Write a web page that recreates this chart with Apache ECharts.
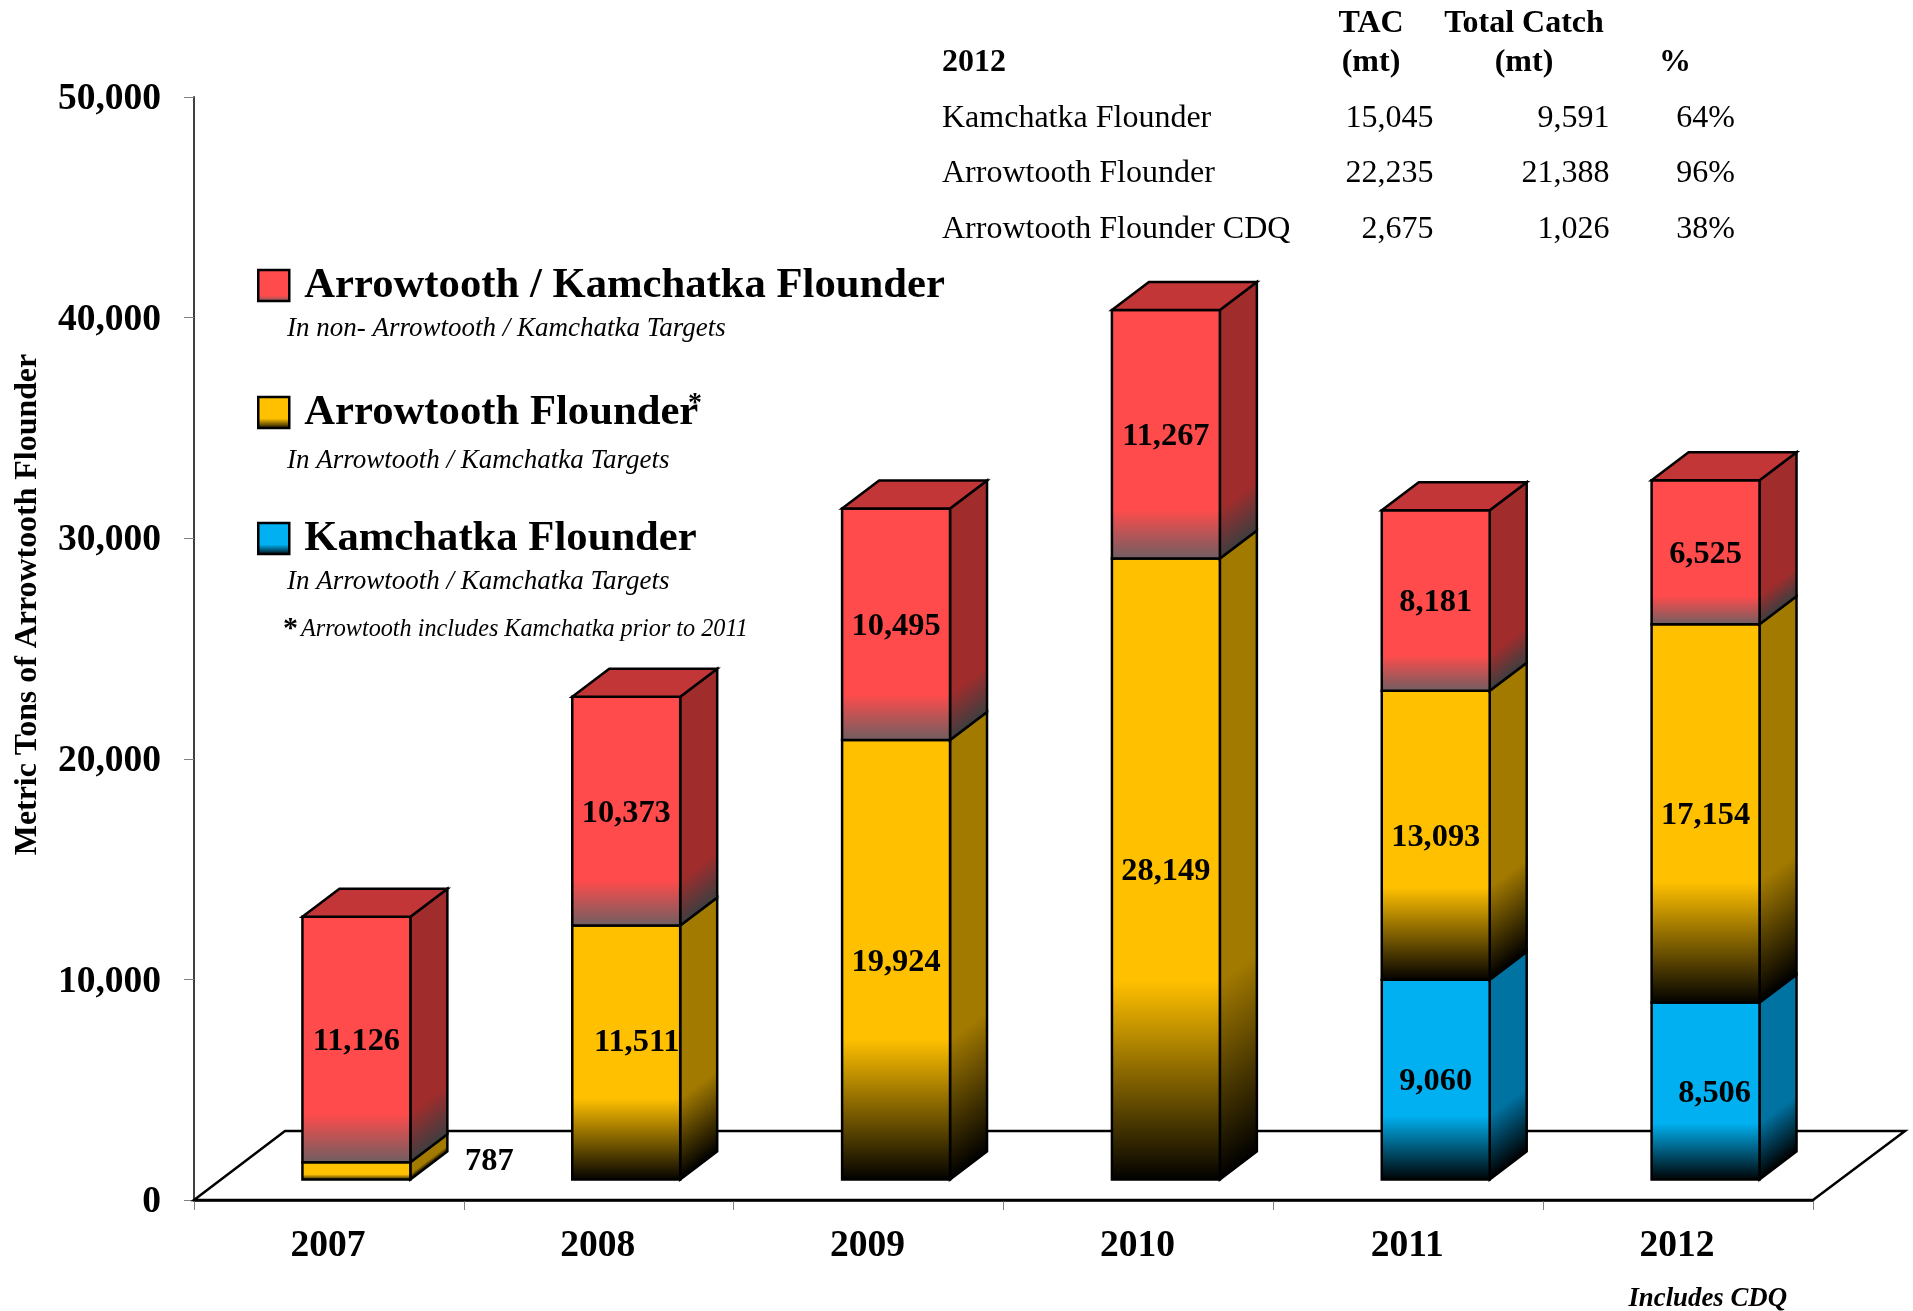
<!DOCTYPE html>
<html>
<head>
<meta charset="utf-8">
<style>html,body{margin:0;padding:0;background:#fff}#c{width:1913px;height:1311px}</style>
<script src="https://cdn.jsdelivr.net/npm/echarts@6/dist/echarts.min.js"></script>
</head>
<body>
<div id="c"></div>
<script>
const years = ['2007','2008','2009','2010','2011','2012'];
// Drawn heights. The 2012 Kamchatka bar is drawn shorter than its printed 8,506.
const kamchatka = [0,0,0,0,9060,8020];
const kamchatkaPrinted = [0,0,0,0,9060,8506];
const arrowtooth = [787,11511,19924,28149,13093,17154];
const nonTarget = [11126,10373,10495,11267,8181,6525];
const nameKam = 'Kamchatka Flounder';
const nameArrow = 'Arrowtooth Flounder';
const nameNon = 'Arrowtooth / Kamchatka Flounder';
const tableHead1 = ['TAC','Total Catch'];
const tableHead2 = ['2012','(mt)','(mt)','%'];
const tableNames = ['Kamchatka Flounder','Arrowtooth Flounder','Arrowtooth Flounder CDQ'];
const tableTac = ['15,045','22,235','2,675'];
const tableCatch = ['9,591','21,388','1,026'];
const tablePct = ['64%','96%','38%'];

const FONT = '"Liberation Serif","Times New Roman",serif';
const DX = 37, DY = 28, BASE_LIFT = 20.5;
const palette = {
  red:    {front:'#FF4B4B', frontEnd:'#6C5F62', stop:.80, side:'#A12C2C', sideEnd:'#3E3E40', top:'#C23638'},
  yellow: {front:'#FFC000', frontEnd:'#000000', stop:.68, side:'#A37A00', sideEnd:'#000000'},
  blue:   {front:'#00B0F0', frontEnd:'#000000', stop:.68, side:'#0073A3', sideEnd:'#000000'}
};
const labelNudge = {'1-1':[10.5,-12], '0-1':[133,-12], '5-0':[9,0]};

function vGrad(p){
  return {type:'linear',x:0,y:0,x2:0,y2:1,colorStops:[
    {offset:0,color:p.front},{offset:p.stop,color:p.front},{offset:1,color:p.frontEnd}]};
}
function barRender(pal, hasTop, sIdx){
  return function(params, api){
    const i = api.value(0), v = api.value(3);
    if(!v) return null;
    const band = api.size([1,0])[0];
    const c0 = api.coord([i, api.value(1)]), c1 = api.coord([i, api.value(2)]);
    const w = band*0.4, x0 = c0[0]+band*0.1-w/2+0.5, x1 = x0+w;
    const yb = c0[1]-BASE_LIFT, yt = c1[1]-BASE_LIFT;
    const stroke = {stroke:'#000',lineWidth:2.5,lineJoin:'miter'};
    const h = yb-yt, len = Math.hypot(DX,DY), L = h*DX/len;
    const sideFill = {type:'linear',global:true,x:x1,y:yt,x2:x1+DY/len*L,y2:yt+DX/len*L,colorStops:[
      {offset:0,color:pal.side},{offset:pal.stop,color:pal.side},{offset:1,color:pal.sideEnd}]};
    const kids = [
      {type:'polygon',shape:{points:[[x1,yt],[x1+DX,yt-DY],[x1+DX,yb-DY],[x1,yb]]},style:Object.assign({fill:sideFill},stroke)},
      {type:'polygon',shape:{points:[[x0,yt],[x1,yt],[x1,yb],[x0,yb]]},style:Object.assign({fill:vGrad(pal)},stroke)}
    ];
    if(hasTop) kids.push({type:'polygon',shape:{points:[[x0,yt],[x0+DX,yt-DY],[x1+DX,yt-DY],[x1,yt]]},style:Object.assign({fill:pal.top},stroke)});
    const n = labelNudge[i+'-'+sIdx] || [0,0];
    kids.push({type:'text',z2:100,style:{x:(x0+x1)/2+n[0],y:(yt+yb)/2+n[1]+2.5,text:api.value(4).toLocaleString('en-US'),
      font:'bold 32.4px '+FONT,fill:'#000',align:'center',verticalAlign:'middle'}});
    return {type:'group',children:kids};
  };
}
function stackRows(arr, below, printed){
  return arr.map((v,i)=>{const b=below.reduce((s,a)=>s+a[i],0);return [i,b,b+v,v,(printed||arr)[i]];});
}
function legendFor(name, top, pal){
  return {show:true,data:[{name,icon:'rect',itemStyle:{color:{type:'linear',x:0,y:0,x2:0,y2:1,colorStops:[
      {offset:0,color:pal.front},{offset:pal.stop,color:pal.front},{offset:1,color:pal.frontEnd}]},borderColor:'#000',borderWidth:2.5}}],
    left:257,top,padding:0,itemWidth:31,itemHeight:31,selectedMode:false,
    textStyle:{fontFamily:FONT,fontWeight:'bold',fontSize:42.7,color:'#000',padding:[2,0,0,10]}};
}
function t(x,y,text,font,align){
  return {type:'text',x,y:y+2.5,silent:true,style:{text,font:font+' '+FONT,fill:'#000',align:align||'left',verticalAlign:'middle'}};
}
const graphics = [
  t(287,326.5,'In non- Arrowtooth / Kamchatka Targets','italic 27px'),
  t(287,458.5,'In Arrowtooth / Kamchatka Targets','italic 27px'),
  t(287,579.5,'In Arrowtooth / Kamchatka Targets','italic 27px'),
  t(283,627,'*','bold 30px'),
  t(301,627,'Arrowtooth includes Kamchatka prior to 2011','italic 24.2px'),
  t(688,401,'*','bold 28px'),
  t(1787,1297,'Includes CDQ','italic bold 26.8px','right'),
  t(1371,21,tableHead1[0],'bold 32px','center'),
  t(1524,21,tableHead1[1],'bold 32px','center'),
  t(942,60,tableHead2[0],'bold 32px'),
  t(1371,60,tableHead2[1],'bold 32px','center'),
  t(1524,60,tableHead2[2],'bold 32px','center'),
  t(1675,60,tableHead2[3],'bold 32px','center')
];
[116,171,227].forEach((y,i)=>{
  graphics.push(t(942,y,tableNames[i],'32px'));
  graphics.push(t(1433.5,y,tableTac[i],'32px','right'));
  graphics.push(t(1609.5,y,tableCatch[i],'32px','right'));
  graphics.push(t(1735,y,tablePct[i],'32px','right'));
});

const chart = echarts.init(document.getElementById('c'),null,{renderer:'canvas'});
chart.setOption({
  animation:false,
  backgroundColor:'#fff',
  grid:{left:194,right:100,top:97,bottom:111,containLabel:false},
  legend:[legendFor(nameNon,264,palette.red),legendFor(nameArrow,391,palette.yellow),legendFor(nameKam,517,palette.blue)],
  graphic:graphics,
  xAxis:{type:'category',data:years,boundaryGap:true,
    axisLine:{show:true,lineStyle:{color:'#000',width:2.5}},
    axisTick:{show:true,alignWithLabel:false,length:10,lineStyle:{color:'#808080',width:1}},
    axisLabel:{fontFamily:FONT,fontWeight:'bold',fontSize:37.5,color:'#000',margin:27,interval:0,padding:[0,2,0,0]},
    splitLine:{show:false}},
  yAxis:{type:'value',min:0,max:50000,interval:10000,
    name:'Metric Tons of Arrowtooth Flounder',nameLocation:'middle',nameGap:150,nameRotate:90,
    nameTextStyle:{fontFamily:FONT,fontWeight:'bold',fontSize:31.9,color:'#000',padding:[0,0,0,88]},
    axisLine:{show:true,lineStyle:{color:'#404040',width:2}},
    axisTick:{show:true,length:10,lineStyle:{color:'#808080',width:1}},
    axisLabel:{color:'#000',margin:33,
      formatter:v=>'{a|'+v.toLocaleString('en-US')+'}',
      rich:{a:{fontFamily:FONT,fontWeight:'bold',fontSize:37.5,color:'#000',padding:[5,0,0,0]}}},
    splitLine:{show:false}},
  series:[
    {type:'custom',name:'floor',silent:true,z:1,data:[[0]],encode:{x:0},legendHoverLink:false,
     renderItem(params){
       const g=params.coordSys, y=g.y+g.height, x=g.x, r=g.x+g.width;
       return {type:'polygon',shape:{points:[[x,y],[x+91,y-69],[r+92,y-69],[r,y]]},
         style:{fill:'none',stroke:'#000',lineWidth:2.5}};
     }},
    {type:'custom',name:nameKam,z:3,itemStyle:{color:palette.blue.front},encode:{x:0,y:[1,2]},
     data:stackRows(kamchatka,[],kamchatkaPrinted),renderItem:barRender(palette.blue,false,0)},
    {type:'custom',name:nameArrow,z:3,itemStyle:{color:palette.yellow.front},encode:{x:0,y:[1,2]},
     data:stackRows(arrowtooth,[kamchatka]),renderItem:barRender(palette.yellow,false,1)},
    {type:'custom',name:nameNon,z:3,itemStyle:{color:palette.red.front},encode:{x:0,y:[1,2]},
     data:stackRows(nonTarget,[kamchatka,arrowtooth]),renderItem:barRender(palette.red,true,2)}
  ]
});
</script>
</body>
</html>
